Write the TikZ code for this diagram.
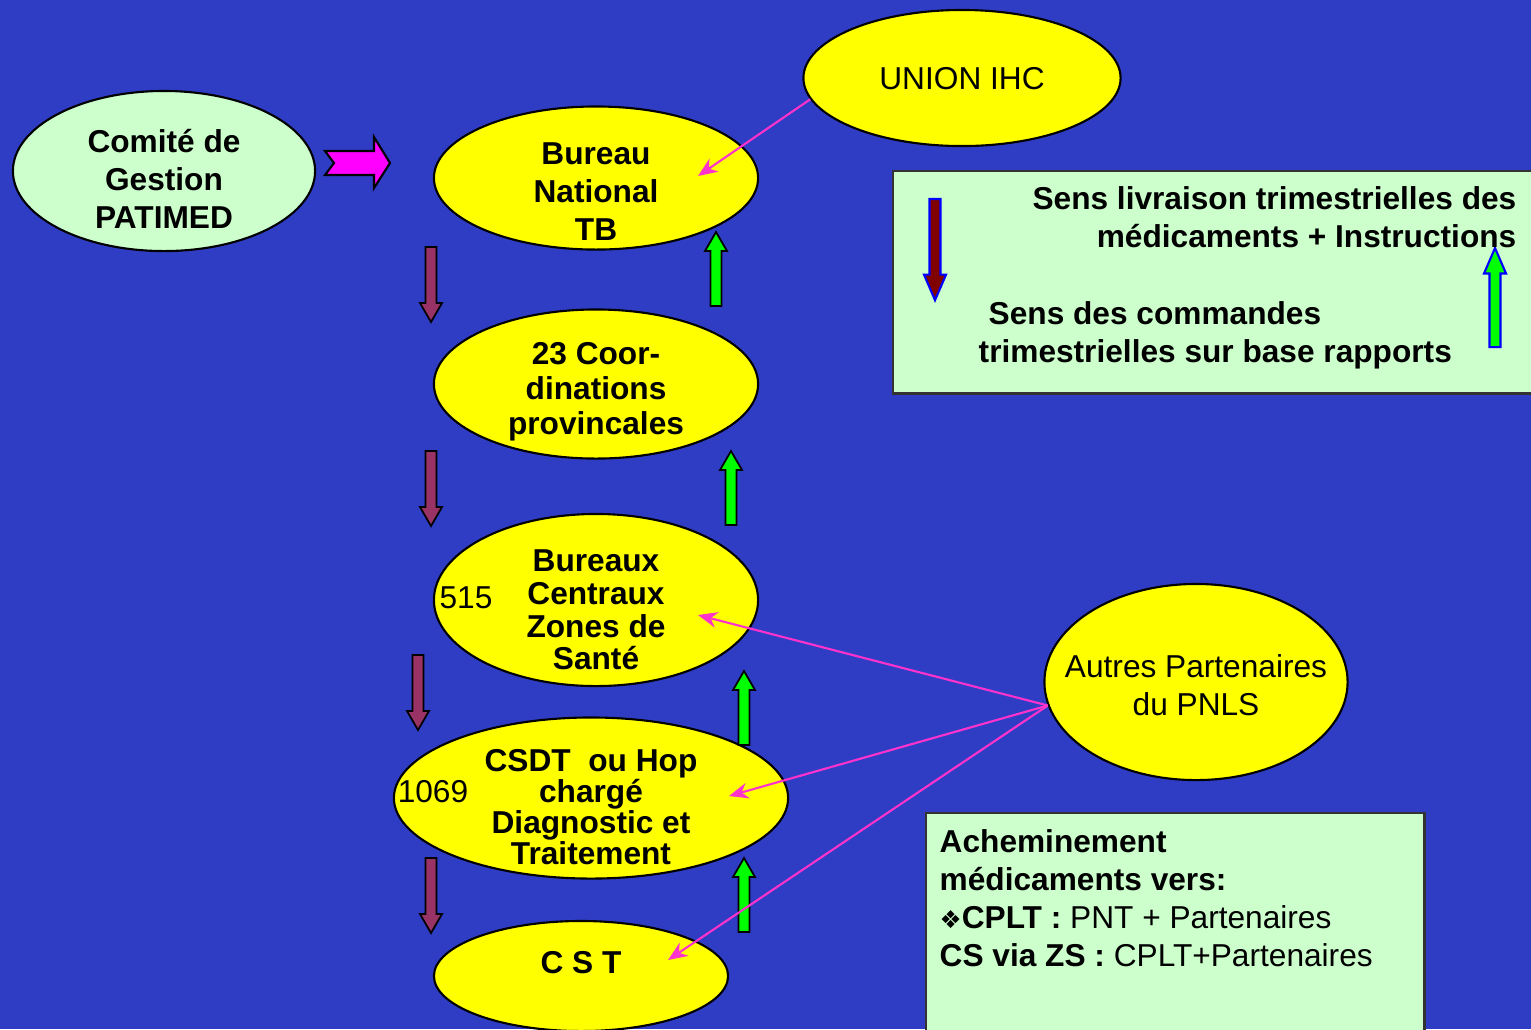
\documentclass[tikz,border=0pt]{standalone}
\usepackage{fontspec}
\setmainfont{Liberation Sans}
\newfontfamily\dejavu{DejaVu Sans}
\usepackage{tikz}
\usetikzlibrary{shapes.geometric,arrows.meta}
\definecolor{bgblue}{RGB}{46,61,196}
\definecolor{ellyellow}{RGB}{255,255,0}
\definecolor{palegreen}{RGB}{204,255,204}
\definecolor{wine}{RGB}{153,51,102}
\definecolor{lime}{RGB}{0,255,0}
\definecolor{fuchsia}{RGB}{255,0,255}
\definecolor{linkpink}{RGB}{255,51,204}
\definecolor{darkred}{RGB}{128,0,0}
\definecolor{edgeblue}{RGB}{0,0,255}
\tikzset{
  ell/.style={ellipse,draw=black,line width=0.6pt,fill=ellyellow,inner sep=0pt},
  lbl/.style={align=center,inner sep=0pt,font=\fontsize{9}{#1}\selectfont\bfseries},
  lbl/.default=10.8,
  txt/.style={align=center,inner sep=0pt,font=\fontsize{9}{10.8}\selectfont},
  box/.style={draw=black!80,line width=0.7pt,fill=palegreen,inner sep=0pt},
  link/.style={draw=linkpink,line width=0.6pt,-{Stealth[length=5.5pt,width=4.5pt]}},
  blockdown/.pic={
    \draw[pic actions] (-5.5,0) -- (-5.5,56) -- (-11,56) -- (0,75) -- (11,56) -- (5.5,56) -- (5.5,0) -- cycle;
  },
  blockup/.pic={
    \draw[pic actions] (0,0) -- (11,19) -- (5.5,19) -- (5.5,74) -- (-5.5,74) -- (-5.5,19) -- (-11,19) -- cycle;
  },
}

\begin{document}
\begin{tikzpicture}[x=0.01cm,y=-0.01cm]
    \useasboundingbox (0,0) rectangle (1531,1029);
    \clip (0,0) rectangle (1531,1029);
    \fill[bgblue] (0,0) rectangle (1531,1029);
    % ellipses
    \node[ell,fill=palegreen,minimum width=3.02cm,minimum height=1.6cm] (cg) at (164,171) {};
    \node[ell,minimum width=3.24cm,minimum height=1.43cm] (bnt) at (596,178) {};
    \node[ell,minimum width=3.17cm,minimum height=1.36cm] (union) at (962,78) {};
    \node[ell,minimum width=3.24cm,minimum height=1.49cm] (cp) at (596,384) {};
    \node[ell,minimum width=3.24cm,minimum height=1.72cm] (bcz) at (596,600) {};
    \node[ell,minimum width=3.94cm,minimum height=1.61cm] (csdt) at (591,798) {};
    \node[ell,minimum width=2.94cm,minimum height=1.1cm] (cst) at (581,976) {};
    \node[ell,minimum width=3.03cm,minimum height=1.96cm] (aut) at (1196,682) {};
    % texts
    \node[lbl] (cg-t) at (164,179) {Comité de\\Gestion\\PATIMED};
    \node[lbl] (bnt-t) at (596,192) {Bureau\\National\\TB};
    \node[txt] (union-t) at (962,79) {UNION IHC};
    \node[lbl=10] (cp-t) at (596,392) {23 Coor-\\dinations\\provincales};
    \node[lbl=9.3] (bcz-t) at (596,610) {Bureaux\\Centraux\\Zones de\\Santé};
    \node[txt] (n515) at (466,598) {515};
    \node[lbl=8.8] (csdt-t) at (591,807) {CSDT\ \ ou Hop\\chargé\\Diagnostic et\\Traitement};
    \node[txt] (n1069) at (433,792) {1069};
    \node[lbl] (cst-t) at (581,963) {C S T};
    \node[txt] (aut-t) at (1196,685) {Autres Partenaires\\du PNLS};
    % flows
    \draw[black,line width=0.6pt,fill=fuchsia] (325,151) -- (374,151) -- (374,137) -- (390,163)
        -- (374,188) -- (374,175) -- (325,175) -- (334,163) -- cycle;
    \foreach \x/\y in {431/247,431/451,418/655,431/858}
        \pic[draw=black,line width=0.5pt,fill=wine] at (\x,\y) {blockdown};
    \foreach \x/\y in {716/232,731/451,744/671,744/858}
        \pic[draw=black,line width=0.5pt,fill=lime] at (\x,\y) {blockup};
    % partner links
    \coordinate (bnt-in) at (698,176);
    \coordinate (bcz-in) at (698,615);
    \coordinate (csdt-in) at (729,796);
    \coordinate (cst-in) at (668,960);
    \draw[link] (union.188) -- (bnt-in);
    \draw[link] (aut.189) -- (bcz-in);
    \draw[link] (aut.189) -- (csdt-in);
    \draw[link] (aut.189) -- (cst-in);
    % legend
    \node[box,anchor=north west,minimum width=6.6cm,minimum height=2.22cm] (leg) at (892,170) {};
    \pic[draw=edgeblue,line width=0.6pt,fill=darkred,yscale=1.35] at (935,199) {blockdown};
    \pic[draw=edgeblue,line width=0.6pt,fill=lime,yscale=1.34] at (1495,248) {blockup};
    \node[lbl,align=right,anchor=north east] (leg-a) at (1517,186)
        {Sens livraison trimestrielles des\\médicaments + Instructions};
    \node[lbl,align=left,anchor=north west] (leg-b) at (978,301)
        {\hspace*{0.1cm}Sens des commandes\\trimestrielles sur base rapports};
    % routing
    \node[box,anchor=north west,minimum width=4.98cm,minimum height=2.4cm] (ach) at (925,812) {};
    \node[txt,align=left,anchor=north west] (ach-t) at (939,829)
        {\textbf{Acheminement}\\\textbf{médicaments vers:}\\
         {\dejavu\fontsize{7}{8}\selectfont ❖}\textbf{CPLT :} PNT + Partenaires\\
         \textbf{CS via ZS :} CPLT+Partenaires};
\end{tikzpicture}
\end{document}
